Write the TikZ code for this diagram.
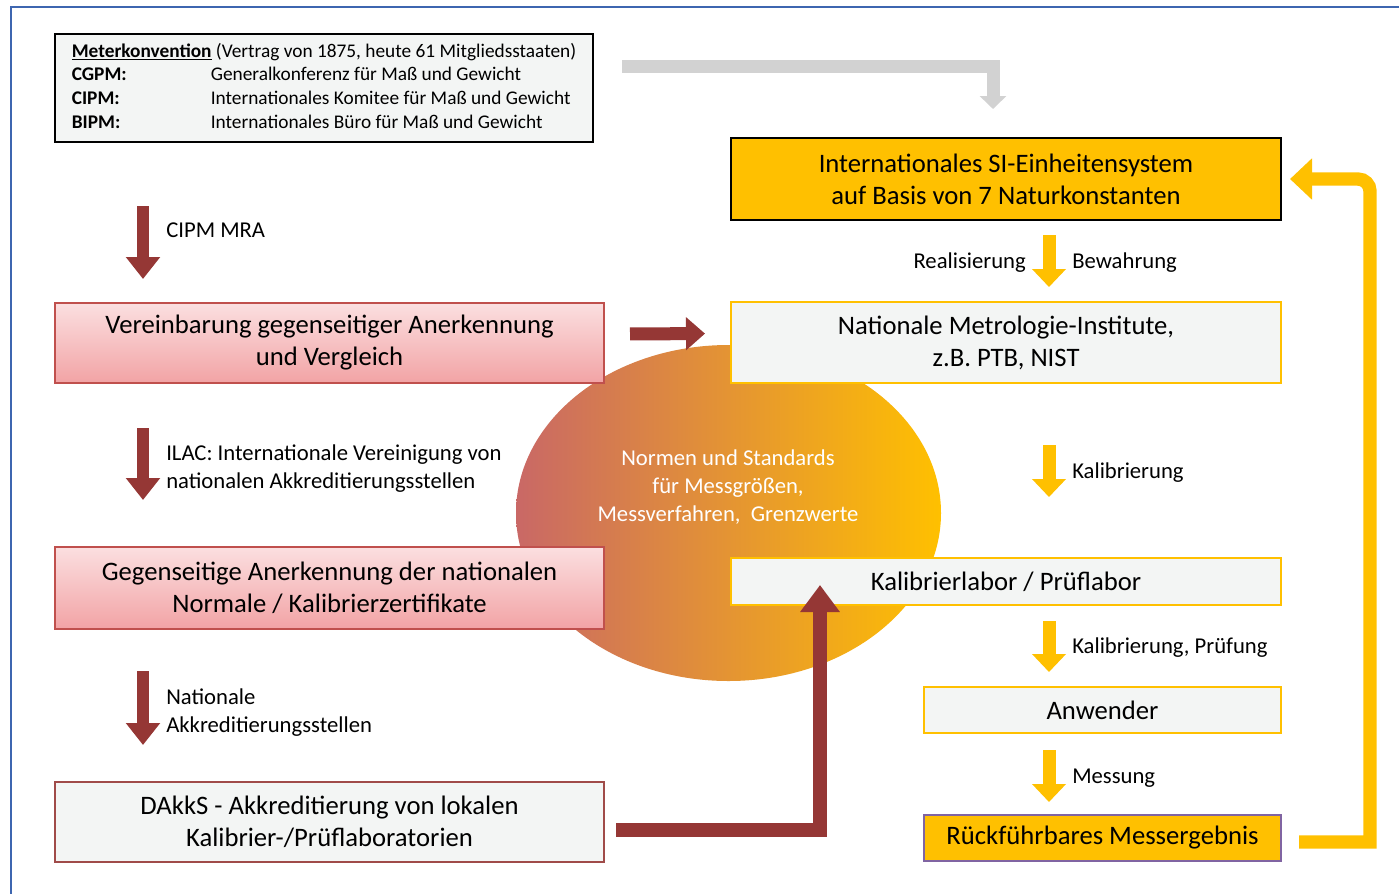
\documentclass[tikz,border=0pt]{standalone}
\usepackage{fontspec}
\setmainfont{Carlito}
\usetikzlibrary{arrows.meta,shapes.geometric}
\definecolor{gold}{HTML}{FFC000}
\definecolor{dunkelrot}{HTML}{953735}
\definecolor{randrot}{HTML}{C0504D}
\definecolor{rosaoben}{HTML}{FBDFE0}
\definecolor{rosaunten}{HTML}{F2A3A5}
\definecolor{hell}{HTML}{F3F5F4}
\definecolor{ellrot}{HTML}{C96866}
\definecolor{grau}{HTML}{D2D2D2}
\definecolor{rahmen}{HTML}{3E66B0}
\definecolor{lila}{HTML}{8064A2}
\tikzset{
  box/.style = {rectangle, align=center, inner sep=0pt,
    font=\fontsize{20}{24}\selectfont},% Kasten, grosse Schrift
  box_m/.style = {rectangle, inner sep=0pt, draw=black, line width=1.8pt,
    fill=hell, font=\fontsize{14.5}{17.8}\selectfont},% Meterkonvention
  box_g/.style = {box, fill=gold, line width=1.5pt},% gelb gefuellt
  box_y/.style = {box, fill=hell, draw=gold, line width=1.5pt},% hell, gelber Rand
  box_r/.style = {box, top color=rosaoben, bottom color=rosaunten,
    draw=randrot, line width=1.5pt},% rosa Verlauf
  box_d/.style = {box, fill=hell, draw=dunkelrot!90, line width=1.5pt},% hell, roter Rand
  norm_ell/.style = {ellipse, inner sep=0pt, minimum width=318.75pt,
    minimum height=252pt, left color=ellrot, right color=gold},
  norm_txt/.style = {white, align=center, inner sep=0pt,
    font=\fontsize{17}{21}\selectfont},
  lbl/.style = {align=left, inner sep=0pt, font=\fontsize{17}{21}\selectfont},
  pf_rot/.style = {draw=dunkelrot, line width=9.5pt,
    -{Triangle[width=24.75pt, length=16.5pt]}},% roter Blockpfeil
  pf_gelb/.style = {draw=gold, line width=9.75pt,
    -{Triangle[width=24.75pt, length=13.5pt]}},% gelber Blockpfeil
  pf_grau/.style = {draw=grau, line width=9.75pt,
    -{Triangle[width=19.5pt, length=9.75pt]}},
  frame/.style = {draw=rahmen, line width=1.5pt}
}
\begin{document}
\begin{tikzpicture}[x=0.75pt, y=-0.75pt]
\useasboundingbox (0,0) rectangle (1399,894);
\draw[frame] (1399,7) -- (11,7) -- (11,894);

% Ellipse hinten
\node[norm_ell] (norm) at (728.5,513) {};
\node[norm_txt] (normtxt) at (728,487)
  {Normen und Standards\\für Messgrößen,\\Messverfahren,\ \ Grenzwerte};

\node[box_m, minimum width=403.5pt, minimum height=81pt] (meter) at (324,88) {%
  \begin{tabular}{@{}p{104.25pt}@{}l@{}}
  \multicolumn{2}{@{}l@{}}{\underline{\textbf{Meterkonvention}} (Vertrag von 1875, heute 61 Mitgliedsstaaten)}\\
  \textbf{CGPM:} & Generalkonferenz für Maß und Gewicht\\
  \textbf{CIPM:} & Internationales Komitee für Maß und Gewicht\\
  \textbf{BIPM:} & Internationales Büro für Maß und Gewicht
  \end{tabular}};

% rechte Spalte
\node[box_g, draw=black, minimum width=412.5pt, minimum height=61.5pt] (si) at (1006,179)
  {Internationales SI-Einheitensystem\\auf Basis von 7 Naturkonstanten};
\node[box_y, minimum width=412.5pt, minimum height=60.75pt] (nmi) at (1006,342.5)
  {Nationale Metrologie-Institute,\\z.B. PTB, NIST};
\node[box_y, minimum width=412.5pt, minimum height=35.25pt] (kal) at (1006,581.5)
  {Kalibrierlabor / Prüflabor};
\node[box_y, minimum width=267.75pt, minimum height=34.5pt] (anw) at (1102.5,710)
  {Anwender};
\node[box_g, draw=lila, minimum width=267.75pt, minimum height=34.5pt] (rueck) at (1102.5,838)
  {Rückführbares Messergebnis};

% linke Spalte
\node[box_r, minimum width=411.75pt, minimum height=60pt] (verein) at (329.5,343)
  {Vereinbarung gegenseitiger Anerkennung\\und Vergleich};
\node[box_r, minimum width=411.75pt, minimum height=61.5pt] (gegen) at (329.5,588)
  {Gegenseitige Anerkennung der nationalen\\Normale / Kalibrierzertifikate};
\node[box_d, minimum width=411.75pt, minimum height=60pt] (dakks) at (329.5,822)
  {DAkkS - Akkreditierung von lokalen\\Kalibrier-/Prüflaboratorien};

\coordinate (lsp) at (143,0);
\coordinate (rsp) at (1049,0);
\coordinate (grx) at (993,0);
\coordinate (rux) at (1370,0);
\coordinate (kalin) at (820,585);
\coordinate (rueckaus) at ([yshift=-3pt]rueck.east);

% Pfeile
\draw[pf_grau, shorten <=21pt, shorten >=21pt] ([yshift=16.5pt]meter.east) -| (si.north -| grx);
\draw[pf_rot, shorten <=47.25pt, shorten >=17.25pt] (meter.south -| lsp) -- (verein.north -| lsp);
\draw[pf_rot, shorten <=33pt, shorten >=34.5pt] (verein.south -| lsp) -- (gegen.north -| lsp);
\draw[pf_rot, shorten <=30.75pt, shorten >=27pt] (gegen.south -| lsp) -- (dakks.north -| lsp);
\draw[pf_rot, line width=9.75pt, -{Triangle[width=24pt, length=14.25pt]},
  shorten <=18.75pt, shorten >=18.75pt] ([yshift=6.75pt]verein.east) -- ([yshift=6.75pt]nmi.west);
\draw[pf_rot, line width=10.5pt, -{Triangle[width=28.5pt, length=20.25pt]},
  shorten <=8.25pt] ([yshift=-6pt]dakks.east) -| (kalin);

\draw[pf_gelb, shorten <=10.5pt, shorten >=10.5pt] (si.south -| rsp) -- (nmi.north -| rsp);
\draw[pf_gelb, shorten <=45.75pt, shorten >=45pt] (nmi.south -| rsp) -- (kal.north -| rsp);
\draw[pf_gelb, shorten <=11.25pt, shorten >=10.5pt] (kal.south -| rsp) -- (anw.north -| rsp);
\draw[pf_gelb, shorten <=12pt, shorten >=9pt] (anw.south -| rsp) -- (rueck.north -| rsp);
\draw[pf_gelb, line width=10pt, -{Triangle[width=30pt, length=16.5pt]},
  shorten <=12.75pt, shorten >=6pt]
  (rueckaus) -- (rueckaus -| rux) [rounded corners=9pt] -- (rux |- si.east) -- (si.east);

% Beschriftungen
\node[lbl, anchor=west] (l_cipm) at (166,230) {CIPM MRA};
\node[lbl, anchor=west] (l_ilac) at (166,469)
  {ILAC: Internationale Vereinigung von\\nationalen Akkreditierungsstellen};
\node[lbl, anchor=west] (l_nat) at (166,713) {Nationale\\Akkreditierungsstellen};
\node[lbl, anchor=east] (l_real) at (1026,263) {Realisierung};
\node[lbl, anchor=west] (l_bew) at (1072,263) {Bewahrung};
\node[lbl, anchor=west] (l_kal) at (1072,473) {Kalibrierung};
\node[lbl, anchor=west] (l_kp) at (1072,648) {Kalibrierung, Prüfung};
\node[lbl, anchor=west] (l_mess) at (1072,778) {Messung};
\end{tikzpicture}
\end{document}
